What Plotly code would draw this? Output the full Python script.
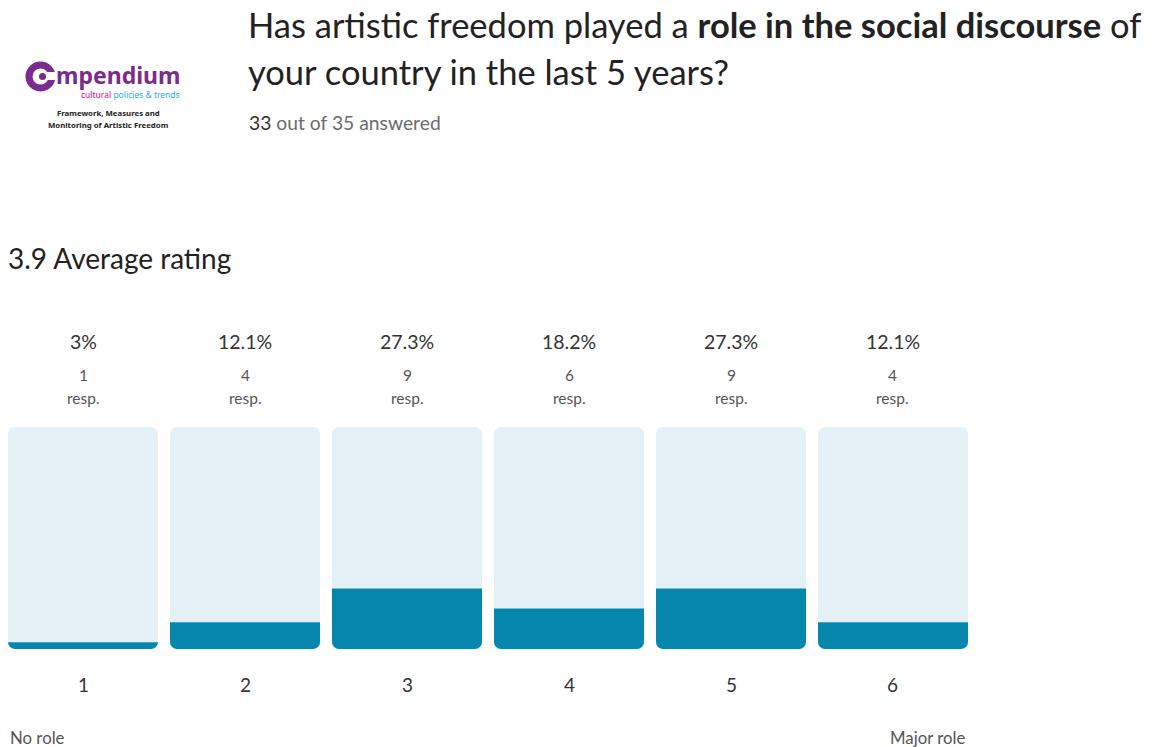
import plotly.graph_objects as go

# ---- data ----
categories = [1, 2, 3, 4, 5, 6]
category_labels = ["1", "2", "3", "4", "5", "6"]
responses = [1, 4, 9, 6, 9, 4]
percent = [3.0, 12.1, 27.3, 18.2, 27.3, 12.1]
percent_labels = ["3%", "12.1%", "27.3%", "18.2%", "27.3%", "12.1%"]
average_rating = 3.9
answered, total = 33, 35
scale_low, scale_high = "No role", "Major role"
full_scale = [100] * 6

W, H = 1168, 747
FONT = "Lato"
DARK = "#0587ad"
LIGHT = "#e3f1f6"
BAR_W = 0.926
RADIUS = 7


def py(p):
    return 1 - p / H


def px(p):
    return p / W


# The rating track is plotted on an axis centred on its midpoint (value - 50),
# using relative stacking so that only the outer ends of each column are rounded.
mid = [f / 2 for f in full_scale]

fig = go.Figure()
# upper half of the light track (rounded top)
fig.add_trace(go.Bar(x=categories, y=mid, marker=dict(color=LIGHT, line=dict(width=0)),
                     width=BAR_W, hoverinfo="skip"))
# light part of the lower half, above the value
fig.add_trace(go.Bar(x=categories, y=[-(m - p) for m, p in zip(mid, percent)],
                     marker=dict(color=LIGHT, line=dict(width=0)),
                     width=BAR_W, hoverinfo="skip"))
# value (dark) part, at the bottom of the column (rounded bottom)
fig.add_trace(go.Bar(x=categories, y=[-p for p in percent],
                     marker=dict(color=DARK, line=dict(width=0)),
                     width=BAR_W, hoverinfo="skip"))

ann = []
for c, pl, r, cl in zip(categories, percent_labels, responses, category_labels):
    ann.append(dict(x=c, y=py(341), xref="x", yref="paper", text=pl, showarrow=False,
                    font=dict(size=19.5, color="#333333", family=FONT), yanchor="middle"))
    ann.append(dict(x=c, y=py(375), xref="x", yref="paper", text=str(r), showarrow=False,
                    font=dict(size=15.5, color="#555555", family=FONT), yanchor="middle"))
    ann.append(dict(x=c, y=py(398), xref="x", yref="paper", text="resp.", showarrow=False,
                    font=dict(size=15.5, color="#555555", family=FONT), yanchor="middle"))
    ann.append(dict(x=c, y=py(684), xref="x", yref="paper", text=cl, showarrow=False,
                    font=dict(size=19, color="#333333", family=FONT), yanchor="middle"))

# scale end labels
ann.append(dict(x=px(8), y=py(737), xref="paper", yref="paper", text=scale_low, showarrow=False,
                xanchor="left", yanchor="middle", font=dict(size=16.8, color="#555555", family=FONT)))
ann.append(dict(x=px(968), y=py(737), xref="paper", yref="paper", text=scale_high, showarrow=False,
                xanchor="right", yanchor="middle", font=dict(size=16.8, color="#555555", family=FONT)))

# average rating
ann.append(dict(x=px(6), y=py(258), xref="paper", yref="paper",
                text=f"{average_rating} Average rating", showarrow=False,
                xanchor="left", yanchor="middle", font=dict(size=28, color="#222222", family=FONT)))

# title
ann.append(dict(x=px(246), y=py(25), xref="paper", yref="paper",
                text="Has artistic freedom played a <b>role in the social discourse</b> of",
                showarrow=False, xanchor="left", yanchor="middle",
                font=dict(size=34.5, color="#222222", family=FONT)))
ann.append(dict(x=px(246), y=py(72), xref="paper", yref="paper",
                text="your country in the last 5 years?",
                showarrow=False, xanchor="left", yanchor="middle",
                font=dict(size=34.5, color="#222222", family=FONT)))
ann.append(dict(x=px(247), y=py(122), xref="paper", yref="paper",
                text=f"<span style='color:#333333'>{answered}</span> out of {total} answered",
                showarrow=False, xanchor="left", yanchor="middle",
                font=dict(size=19.3, color="#6b6b6b", family=FONT)))

# logo
PURPLE = "#7b2a8e"
ann.append(dict(x=px(54), y=py(74.5), xref="paper", yref="paper", text="<b>mpendium</b>",
                showarrow=False, xanchor="left", yanchor="middle",
                font=dict(size=23, color=PURPLE, family="Noto Sans")))
ann.append(dict(x=px(182), y=py(94), xref="paper", yref="paper",
                text="<span style='color:#e6007e'>cultural</span> <span style='color:#29abe2'>policies &amp; trends</span>",
                showarrow=False, xanchor="right", yanchor="middle",
                font=dict(size=8.5, family="Noto Sans")))
ann.append(dict(x=px(108), y=py(113), xref="paper", yref="paper",
                text="<b>Framework, Measures and</b>", showarrow=False, xanchor="center", yanchor="middle",
                font=dict(size=7.8, color="#222222", family="Noto Sans")))
ann.append(dict(x=px(108), y=py(125), xref="paper", yref="paper",
                text="<b>Monitoring of Artistic Freedom</b>", showarrow=False, xanchor="center", yanchor="middle",
                font=dict(size=7.8, color="#222222", family="Noto Sans")))

shapes = [
    # logo "C" ring
    dict(type="circle", xref="paper", yref="paper",
         x0=px(29), x1=px(52), y0=py(88), y1=py(65),
         line=dict(color=PURPLE, width=7), fillcolor="rgba(0,0,0,0)"),
    dict(type="rect", xref="paper", yref="paper",
         x0=px(47), x1=px(56), y0=py(80), y1=py(72),
         line=dict(width=0), fillcolor="white"),
    dict(type="circle", xref="paper", yref="paper",
         x0=px(39), x1=px(46), y0=py(80), y1=py(73),
         line=dict(width=0), fillcolor=PURPLE),
]

x_lo = categories[0] - BAR_W / 2
x_hi = categories[-1] + BAR_W / 2
fig.update_layout(
    width=W, height=H,
    margin=dict(l=0, r=0, t=0, b=0),
    paper_bgcolor="white", plot_bgcolor="white",
    barmode="relative", barcornerradius=RADIUS, showlegend=False,
    xaxis=dict(domain=[px(8), px(968)], range=[x_lo, x_hi], visible=False, fixedrange=True),
    yaxis=dict(domain=[py(649), py(427)], range=[-max(mid), max(mid)], visible=False, fixedrange=True),
    annotations=ann, shapes=shapes,
    font=dict(family=FONT),
)

fig.write_html("out.html")
